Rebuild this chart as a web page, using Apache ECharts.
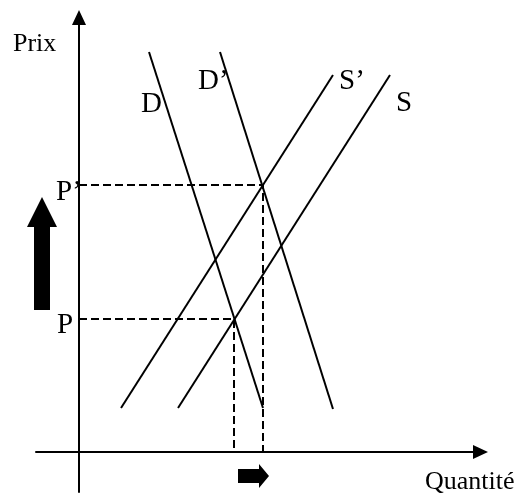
<!DOCTYPE html>
<html>
<head>
<meta charset="utf-8">
<script src="https://cdn.jsdelivr.net/npm/echarts@6/dist/echarts.min.js"></script>
<style>
  html, body { margin: 0; padding: 0; background: #fff; }
  #main { width: 515px; height: 493px; }
</style>
</head>
<body>
<div id="main"></div>
<script>
// données (unités arbitraires, origine = croisement des axes)
var demandeD  = [[7.0, 40.0], [18.4, 4.4]];
var demandeD2 = [[14.1, 40.0], [25.4, 4.3]];
var offreS    = [[9.9, 4.4], [31.1, 37.7]];
var offreS2   = [[4.2, 4.4], [25.4, 37.7]];
// équilibres : P (D x S) et P' (D' x S')
var equilibreP  = [15.5, 13.3];
var equilibreP2 = [18.4, 26.7];
var axisTitles = ['Quantité', 'Prix'];
var curveNames = ['D', 'D\u2019', 'S', 'S\u2019', 'P', 'P\u2019'];

(function () {
    var chartDom = document.getElementById('main');
    var myChart = echarts.init(chartDom);

    function guide(pt) {
        return [[0, pt[1]], [pt[0], pt[1]], [pt[0], 0]];
    }
    function lineSeries(data, dashed) {
        return {
            type: 'line',
            data: data,
            symbol: 'none',
            silent: true,
            lineStyle: { color: '#000', width: 2, type: dashed ? [8, 4] : 'solid' }
        };
    }

    var font = '29px "Liberation Serif"';
    var smallFont = '26px "Liberation Serif"';
    function txt(s, x, y, f) {
        return { type: 'text', x: x, y: y, silent: true,
            style: { text: s, font: f || font, fill: '#000', verticalAlign: 'middle' } };
    }

    var axisCommon = {
        type: 'value',
        axisLine: {
            onZero: true,
            symbol: ['none', 'triangle'],
            symbolSize: [14, 15],
            lineStyle: { color: '#000', width: 2 }
        },
        axisTick: { show: false },
        axisLabel: { show: false },
        splitLine: { show: false }
    };

    var option = {
        animation: false,
        backgroundColor: '#fff',
        grid: { left: 36, right: 34.5, top: 17.5, bottom: 1 },
        xAxis: Object.assign({}, axisCommon, { min: -4.3, max: 40.15 }),
        yAxis: Object.assign({}, axisCommon, { min: -4.0, max: 43.45 }),
        series: [
            lineSeries(demandeD),
            lineSeries(demandeD2),
            lineSeries(offreS),
            lineSeries(offreS2),
            lineSeries(guide(equilibreP), true),
            lineSeries(guide(equilibreP2), true)
        ],
        graphic: [
            txt(axisTitles[1], 13, 44, smallFont),
            txt(axisTitles[0], 425, 482, smallFont),
            txt(curveNames[0], 141, 104),
            txt(curveNames[1], 198, 81),
            txt(curveNames[2], 396, 103),
            txt(curveNames[3], 339, 81),
            txt(curveNames[4], 57, 325),
            txt(curveNames[5], 56, 192),
            // flèche épaisse : hausse du prix
            { type: 'polygon', silent: true,
              shape: { points: [[42, 197], [57, 227], [50, 227], [50, 310], [34, 310], [34, 227], [27, 227]] },
              style: { fill: '#000' } },
            // flèche épaisse : hausse de la quantité
            { type: 'polygon', silent: true,
              shape: { points: [[269, 476], [259, 464], [259, 469], [238, 469], [238, 483], [259, 483], [259, 488]] },
              style: { fill: '#000' } }
        ]
    };

    myChart.setOption(option);
    window.addEventListener('resize', function () {
        myChart.resize();
    });
})();
</script>
</body>
</html>
